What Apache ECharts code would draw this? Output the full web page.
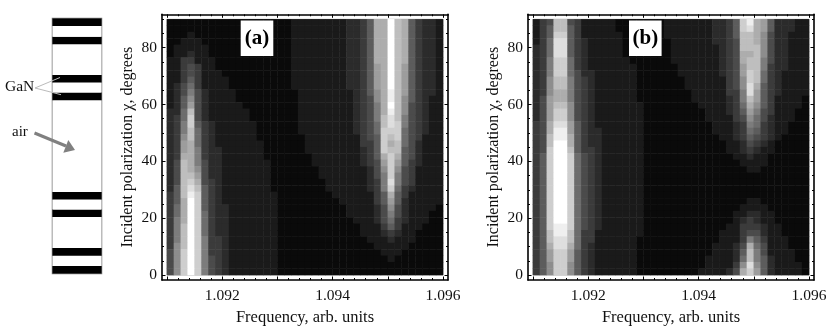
<!DOCTYPE html>
<html>
<head>
<meta charset="utf-8">
<style>html,body{margin:0;padding:0;background:#fff}#c{width:830px;height:328px}</style>
<script src="https://cdn.jsdelivr.net/npm/echarts@6/dist/echarts.min.js"></script>
</head>
<body>
<div id="c"></div>
<script>
// Gray level (hex digit, 0 = darkest, f = white) per cell; rows top (90 deg) to bottom (0 deg), 40 columns.
const heatA = [
"0000000000 0000000011 1111112235 aafba53221",
"0000000000 0000000011 1111112235 aafba53221",
"0001000000 0000000011 1111112235 aafba53221",
"0011100000 0000000011 1111112235 aafba53221",
"0111110000 0000000011 1111112235 aafba53221",
"0112110000 0000000011 1111112235 aafba53221",
"1133111000 0000000011 1111112235 aafba53221",
"1134311000 0000000011 1111112235 9afb953221",
"1134311100 0000000011 1111112235 9afb953221",
"1135311110 0000000011 1111112235 9afb953221",
"1246311110 0000000011 1111112235 9afb953221",
"1247421111 0000000001 1111111235 8aeb953221",
"1258421111 0000000001 1111111234 8aeb853211",
"1259421111 1000000001 1111111234 7afb843211",
"226b421111 1100000001 1111111234 7aeb843211",
"236c421111 1100000001 1111111234 7bdb743211",
"237c532111 1110000001 1111111234 6bdc743211",
"237b632111 1110000001 1111111234 6ccc643211",
"238b632111 1110000000 1111111134 5cbc643111",
"239a632111 1111000000 1111111133 5cab642111",
"239a732211 1111000000 1111111123 5cbb542111",
"23aa732211 1111000000 0111111123 5aca542111",
"24ba742211 1111100000 0111111123 49c9532111",
"24ba842211 1111100000 0011111112 48c8431111",
"24bb942211 1111100000 0011111112 47c7431111",
"24bca43211 1111100000 0001111112 37d7431111",
"25bdb53211 1111100000 0001111112 37c6321111",
"35bec53211 1111110000 0000111111 35a5311111",
"35afc53211 1111110000 0000011111 3595211111",
"36afc53221 1111110000 0000001111 2484211110",
"36afc63221 1111110000 0000001111 2474211100",
"37afc63221 1111110000 0000000111 2463211100",
"37bfc63221 1111110000 0000000011 1353111000",
"37bfc63221 1111110000 0000000011 1232110000",
"37bfc73321 1111110000 0000000001 1121110000",
"38bfc73321 1111110000 0000000000 1111100000",
"48cfc73321 1111110000 0000000000 0111000000",
"48cfc74321 1111110000 0000000000 0010000000",
"48cfc74321 1111110000 0000000000 0000000000",
"48cfc74321 1111110000 0000000000 0000000000"
];
const heatB = [
"134bb43111 1100000001 1111112235 cea9522211",
"135bb53111 1100000001 1111112235 cda9522211",
"135cc53111 1110000001 1111112235 bba8422111",
"136dd53211 1110000000 1111112234 bba8422111",
"236dd53211 1110000000 1111111234 bbb8422111",
"236dd53211 1110000000 1111111234 aab8422111",
"237cc63211 1111000000 1111111234 abb7422111",
"237cc63211 1111100000 0111111234 9bb7322111",
"237cc64221 1111100000 0111111234 9cb6321111",
"238bb74321 1111100000 0011111134 8cb6321111",
"238bb74321 1111100000 0011111134 8da5321111",
"238aa74321 1111100000 0001111133 7d95321111",
"249aa74321 1111100000 0001111123 7b95311110",
"249bb84321 1111110000 0000111123 6a85311110",
"249cc84321 1111110000 0000011123 5974311100",
"249cc84321 1111110000 0000011113 4864211100",
"34add95321 1111110000 0000001112 3763211000",
"34aee95322 1111110000 0000001112 3653211000",
"34beea5322 1111110000 0000000112 3543210000",
"34bffa5322 1111110000 0000000011 2432100000",
"34cffb5332 1111110000 0000000011 2321100000",
"35cffc6432 1111110000 0000000001 1211000000",
"35cffc6432 1111110000 0000000000 1111000000",
"35cffc6432 1111110000 0000000000 0110000000",
"35cffc6432 1111110000 0000000000 0000000000",
"35cffc6432 1111110000 0000000000 0000000000",
"35cffc6432 1111110000 0000000000 0000000000",
"35cffc6432 1111110000 0000000000 0000000000",
"35cffc6432 1111110000 0000000000 0110000000",
"35cffc6432 1111110000 0000000000 1111000000",
"35cffc6432 1111110000 0000000001 1221100000",
"35cffc6432 1111110000 0000000001 2321100000",
"35ceec6432 1111110000 0000000011 3332110000",
"35beeb6331 1111110000 0000000111 3442110000",
"35bddb6331 1111100000 0000000111 3753111000",
"35adda6321 1111100000 0000001112 4a64111000",
"359cc95321 1111100000 0000001112 5b74111100",
"359cc95321 1111100000 0000011112 6b75211100",
"358cc85321 1111100000 0000011113 8d85211110",
"358cc85321 1111100000 0000111124 ac95211110"
];
const freqTickLabels = [1.092, 1.094, 1.096];
const freqMajorTicks = [1.091, 1.092, 1.093, 1.094, 1.095, 1.096];
const freqMinorTicks = [1.0912,1.0914,1.0916,1.0918,1.0922,1.0924,1.0926,1.0928,1.0932,1.0934,1.0936,1.0938,1.0942,1.0944,1.0946,1.0948,1.0952,1.0954,1.0956,1.0958];
const chiTickLabels = [0, 20, 40, 60, 80];
const chiMinorTicks = [5,10,15,25,30,35,45,50,55,65,70,75,85,90];
// Structure, from bottom to top
const layerThickness = [7.6,10.3,7.6,31,7.6,10,7.6,92,7.6,10,7.6,30.7,7.6,10.7,7.6];
const layerMaterial = ["GaN","air","GaN","air","GaN","air","GaN","air","GaN","air","GaN","air","GaN","air","GaN"];
const xName = "Frequency, arb. units";
const yName = "Incident polarization \u03c7, degrees";

const SERIF = '"Liberation Serif","Times New Roman",serif';
const H = {left0:167, left1:533, top:19.3, w:276, h:255.7};
const pad = 5;
const fMin = 1.091 - pad * 0.005 / H.w, fMax = 1.096 + pad * 0.005 / H.w;
const cMin = 0 - pad * 90 / H.h, cMax = 90 + pad * 90 / H.h;

function cells(rows){
  const out = [];
  rows.forEach((row, i) => {
    row.replace(/ /g, '').split('').forEach((ch, j) => {
      out.push([j, rows.length - 1 - i, parseInt(ch, 16)]);
    });
  });
  return out;
}
const bins = n => Array.from({length:n}, (_, i) => String(i));

const grids = [], xAxes = [], yAxes = [], series = [];
function hiddenCat(g, n){
  return {type:'category', gridIndex:g, data:bins(n), boundaryGap:true, show:false};
}
function frameX(g, position, major, labeled){
  const line = {lineStyle:{color:'#000', width:1.6}};
  return {type:'value', gridIndex:g, position, min:fMin, max:fMax,
    name: labeled ? xName : '', nameLocation:'middle', nameGap:23,
    nameTextStyle:{fontFamily:SERIF, fontSize:16.5, color:'#111'},
    splitLine:{show:false}, minorSplitLine:{show:false},
    axisLine:{show:major, onZero:false, ...line},
    axisTick:{show:true, inside:true, length:major?3.5:2, customValues:major?freqMajorTicks:freqMinorTicks, lineStyle:{color:'#000', width:1}},
    axisLabel: labeled ? {show:true, customValues:freqTickLabels, formatter:v=>Number(v).toFixed(3), fontFamily:SERIF, fontSize:15.5, color:'#111', margin:8, hideOverlap:false} : {show:false}};
}
function frameY(g, position, major, labeled){
  const line = {lineStyle:{color:'#000', width:1.6}};
  return {type:'value', gridIndex:g, position, min:cMin, max:cMax,
    name: labeled ? yName : '', nameLocation:'middle', nameGap:26, nameRotate:90,
    nameTextStyle:{fontFamily:SERIF, fontSize:16, color:'#111'},
    splitLine:{show:false}, minorSplitLine:{show:false},
    axisLine:{show:major, onZero:false, ...line},
    axisTick:{show:true, inside:true, length:major?3.5:2, customValues:major?chiTickLabels:chiMinorTicks, lineStyle:{color:'#000', width:1}},
    axisLabel: labeled ? {show:true, customValues:chiTickLabels, fontFamily:SERIF, fontSize:15.5, color:'#111', margin:5, hideOverlap:false} : {show:false}};
}
function panel(left, rows){
  const gHeat = grids.length;
  grids.push({left:left, top:H.top, width:H.w, height:H.h, show:true, borderColor:'#aaa', borderWidth:1, backgroundColor:'#fff', outerBoundsMode:'none'});
  const ax = xAxes.length, ay = yAxes.length;
  xAxes.push(hiddenCat(gHeat, rows[0].replace(/ /g,'').length));
  yAxes.push(hiddenCat(gHeat, rows.length));
  series.push({type:'heatmap', xAxisIndex:ax, yAxisIndex:ay, data:cells(rows), progressive:0, emphasis:{disabled:true}, itemStyle:{borderWidth:0}});
  const gFrame = grids.length;
  grids.push({left:left-pad, top:H.top-pad, width:H.w+2*pad, height:H.h+2*pad, outerBoundsMode:'none'});
  xAxes.push(frameX(gFrame,'bottom',true,true), frameX(gFrame,'top',true,false), frameX(gFrame,'bottom',false,false), frameX(gFrame,'top',false,false));
  yAxes.push(frameY(gFrame,'left',true,true), frameY(gFrame,'right',true,false), frameY(gFrame,'left',false,false), frameY(gFrame,'right',false,false));
}
panel(H.left0, heatA);
panel(H.left1, heatB);

// Layered structure as a stacked column
const gStack = grids.length;
grids.push({left:52.5, top:18.5, width:49, height:255, show:true, borderColor:'#777', borderWidth:1.5, backgroundColor:'#fff', outerBoundsMode:'none'});
const sx = xAxes.length, sy = yAxes.length;
xAxes.push({type:'category', gridIndex:gStack, data:['stack'], show:false});
const totalLayers = layerThickness.reduce((a,b)=>a+b,0);
yAxes.push({type:'value', gridIndex:gStack, min:0, max:totalLayers, show:false, splitLine:{show:false}});
layerThickness.forEach((t, i) => {
  series.push({type:'bar', xAxisIndex:sx, yAxisIndex:sy, stack:'layers', barWidth:'100%', data:[t],
    itemStyle:{color: layerMaterial[i]==='GaN' ? '#000' : '#fff'}, emphasis:{disabled:true}, z:3});
});

const graphic = [
  {type:'rect', shape:{x:240.7,y:20.5,width:32.6,height:35.5}, style:{fill:'#fff'}, z:100},
  {type:'text', x:257, y:38.5, style:{text:'(a)', font:'bold 21px '+SERIF, fill:'#000', textAlign:'center', textVerticalAlign:'middle'}, z:101},
  {type:'rect', shape:{x:629,y:20.5,width:32.6,height:35.5}, style:{fill:'#fff'}, z:100},
  {type:'text', x:645.3, y:38.5, style:{text:'(b)', font:'bold 21px '+SERIF, fill:'#000', textAlign:'center', textVerticalAlign:'middle'}, z:101},
  {type:'text', x:5, y:87, style:{text:'GaN', font:'15.5px '+SERIF, fill:'#111', textAlign:'left', textVerticalAlign:'middle'}, z:101},
  {type:'text', x:12, y:132.5, style:{text:'air', font:'15px '+SERIF, fill:'#111', textAlign:'left', textVerticalAlign:'middle'}, z:101},
  {type:'line', shape:{x1:35,y1:88,x2:60,y2:77.5}, style:{stroke:'#bbb', lineWidth:1}, z:101},
  {type:'line', shape:{x1:35,y1:88,x2:61,y2:94.7}, style:{stroke:'#bbb', lineWidth:1}, z:101},
  {type:'line', shape:{x1:34.5,y1:133,x2:66,y2:146}, style:{stroke:'#808080', lineWidth:3}, z:101},
  {type:'polygon', shape:{points:[[75,150],[68.3,140],[63.3,152.7]]}, style:{fill:'#808080'}, z:101}
];

const chart = echarts.init(document.getElementById('c'), null, {renderer:'canvas'});
chart.setOption({
  animation:false,
  backgroundColor:'#fff',
  tooltip:{show:false},
  visualMap:{show:false, type:'continuous', min:0, max:15, seriesIndex:[0,1], inRange:{color:['#0a0a0a','#ffffff']}},
  grid:grids, xAxis:xAxes, yAxis:yAxes, series:series, graphic:graphic
});
</script>
</body>
</html>
